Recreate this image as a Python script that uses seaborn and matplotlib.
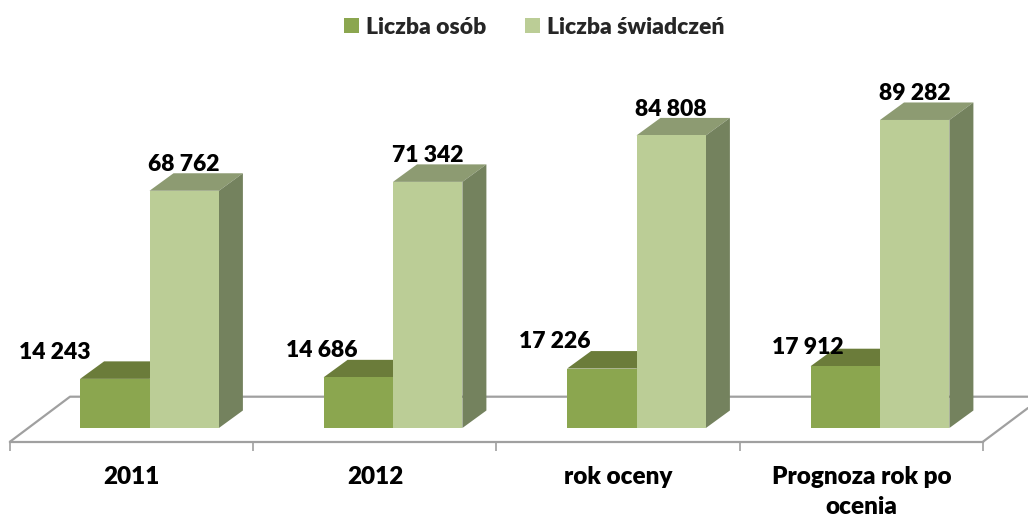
import matplotlib

matplotlib.use("Agg")
import matplotlib.pyplot as plt
import pandas as pd
import seaborn as sns
from matplotlib.lines import Line2D
from matplotlib.patches import Polygon

# values
categories = ["2011", "2012", "rok oceny", "Prognoza rok po\nocenia"]
series_names = ["Liczba osób", "Liczba świadczeń"]
persons = [14243, 14686, 17226, 17912]
services = [68762, 71342, 84808, 89282]

W, H = 1028, 518
FONT = "Lato"
WEIGHT = "heavy"
FRONT = ["#8BA64F", "#BBCD96"]
TOP = ["#6B7C3A", "#8D9B72"]
SIDE = ["#66763A", "#74825E"]
GRID = "#A0A0A0"
DEPTH = (24, 17.5)  # pixels

# label shifts from the bar centre / top, pixels
person_shift = [(-60, 26), (-37, 27), (-47, 27), (-37, 19)]
service_shift = [(0, 26), (0, 26), (0, 26), (0, 26)]

sns.set_theme(style="white")
plt.rcParams["font.family"] = [FONT, "DejaVu Sans"]

df = pd.DataFrame(
    {
        "category": categories * 2,
        "series": [series_names[0]] * 4 + [series_names[1]] * 4,
        "value": persons + services,
    }
)

fig = plt.figure(figsize=(W / 100, H / 100), dpi=100, facecolor="white")

# floor: its bottom spine carries the category ticks and labels
floor = fig.add_axes([10 / W, (H - 441.7) / H, (983 - 10) / W, 45 / H])
floor.set_xlim(-0.5, 3.5)
floor.set_ylim(0, 1)
floor.patch.set_alpha(0)
for side in ["top", "left", "right"]:
    floor.spines[side].set_visible(False)
floor.spines["bottom"].set_color(GRID)
floor.spines["bottom"].set_linewidth(1.6)
floor.set_xticks(range(4), categories, fontsize=17.5, fontweight=WEIGHT, color="black", linespacing=1.42)
floor.set_xticks([-0.5, 0.5, 1.5, 2.5, 3.5], minor=True)
floor.tick_params(axis="x", which="major", bottom=False, length=0, pad=17.5)
floor.tick_params(axis="x", which="minor", bottom=True, length=6.5, width=1.2, color=GRID)
floor.set_yticks([])

# back edge and diagonals of the floor, in pixels
for xs, ys in [
    ((10, 70, W), (441.7, 396.7, 396.7)),
    ((983, W), (441.7, 408)),
]:
    fig.add_artist(
        Line2D(
            [x / W for x in xs],
            [(H - y) / H for y in ys],
            color=GRID,
            lw=1.6,
            transform=fig.transFigure,
            zorder=-1,
        )
    )

# bars axes over the whole figure; 0 sits at y=428 px, first group at x=149.5 px
px_per_cat = 243.5
px_per_unit = 0.00345
ax = fig.add_axes([0, 0, 1, 1])
ax.patch.set_alpha(0)
sns.barplot(
    data=df,
    x="category",
    y="value",
    hue="series",
    order=categories,
    hue_order=series_names,
    palette=FRONT,
    width=0.57,
    gap=0,
    saturation=1,
    linewidth=0,
    ax=ax,
)
ax.set_xlim(-149.5 / px_per_cat, (W - 149.5) / px_per_cat)
ax.set_ylim((428 - H) / px_per_unit, 428 / px_per_unit)
ax.axis("off")

dx = DEPTH[0] / px_per_cat
dy = DEPTH[1] / px_per_unit
shifts = [person_shift, service_shift]
for k, bars in enumerate(ax.containers):
    base_z = 2 + 2 * k
    for bar, shift in zip(bars, shifts[k]):
        x0, w, h = bar.get_x(), bar.get_width(), bar.get_height()
        bar.set_zorder(base_z + 1)
        ax.add_patch(
            Polygon(
                [(x0, h), (x0 + w, h), (x0 + w + dx, h + dy), (x0 + dx, h + dy)],
                facecolor=TOP[k],
                edgecolor="none",
                zorder=base_z,
            )
        )
        ax.add_patch(
            Polygon(
                [(x0 + w, 0), (x0 + w + dx, dy), (x0 + w + dx, h + dy), (x0 + w, h)],
                facecolor=SIDE[k],
                edgecolor="none",
                zorder=base_z,
            )
        )
        ax.annotate(
            f"{int(h):,}".replace(",", " "),
            xy=(x0 + w / 2, h),
            xytext=(shift[0] * 0.72, shift[1] * 0.72),
            textcoords="offset points",
            ha="center",
            va="center",
            fontsize=16.5,
            fontweight=WEIGHT,
            color="black",
            zorder=10,
        )

handles = [plt.Rectangle((0, 0), 1, 1, facecolor=c, edgecolor="none") for c in FRONT]
ax.legend(
    handles,
    series_names,
    ncol=2,
    loc="center",
    bbox_to_anchor=(534.5 / W, (H - 27) / H),
    frameon=False,
    prop={"family": FONT, "weight": WEIGHT, "size": 16.5},
    handlelength=0.66,
    handleheight=0.66,
    handletextpad=0.3,
    columnspacing=1.7,
    borderpad=0,
)

fig.savefig("out.png", dpi=100)
